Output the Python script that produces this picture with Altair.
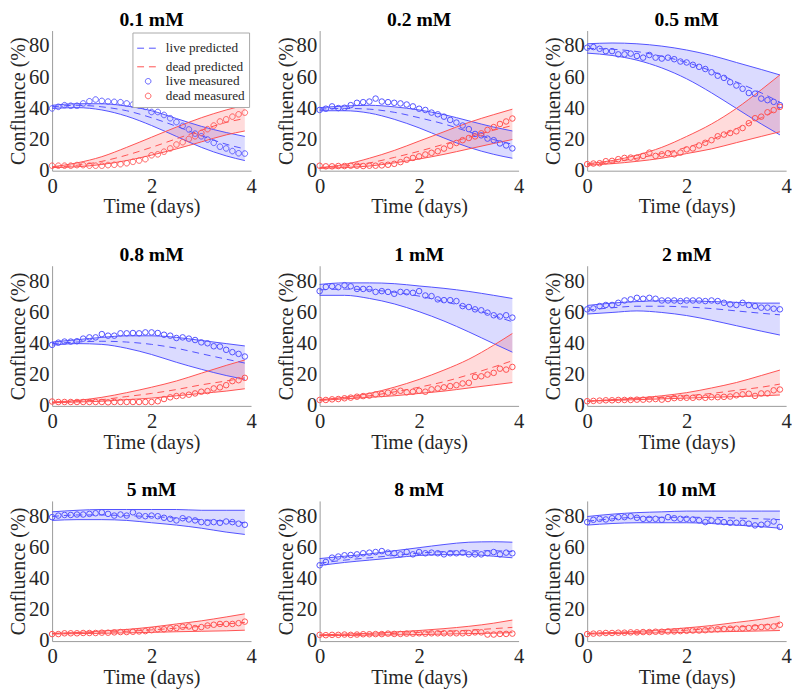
import altair as alt
import pandas as pd

# ---------------- data ----------------
TIMES_MEAS = [0.0, 0.125, 0.25, 0.375, 0.5, 0.625, 0.75, 0.875, 1.0, 1.125, 1.25, 1.375,
              1.5, 1.625, 1.75, 1.875, 2.0, 2.125, 2.25, 2.375, 2.5, 2.625, 2.75, 2.875,
              3.0, 3.125, 3.25, 3.375, 3.5, 3.625, 3.75, 3.875]
TIMES_PRED = [0.0, 0.5, 1.0, 1.5, 2.0, 2.5, 3.0, 3.5, 3.875]
TITLES = ["0.1 mM", "0.2 mM", "0.5 mM", "0.8 mM", "1 mM", "2 mM", "5 mM", "8 mM", "10 mM"]
X_TICKS = [0, 2, 4]
Y_TICKS = [0, 20, 40, 60, 80]
LEGEND_LABELS = ["live predicted", "dead predicted", "live measured", "dead measured"]

# 0.1 mM
live_meas_01 = [40.0, 41.0, 42.1, 41.7, 41.7, 43.2, 44.6, 45.7, 44.8, 44.4, 44.2, 44.0, 43.2, 42.5, 41.9, 41.0,
                37.7, 37.7, 35.8, 33.7, 31.2, 28.8, 26.5, 23.8, 22.1, 20.0, 17.9, 15.4, 14.3, 12.6, 11.2, 11.0]
dead_meas_01 = [3.2, 3.2, 3.2, 3.2, 3.6, 3.6, 3.2, 3.2, 3.2, 3.6, 3.8, 4.2, 4.8, 5.7, 6.5, 7.4,
                9.9, 10.5, 12.2, 14.3, 16.8, 18.3, 20.4, 22.1, 24.2, 26.7, 29.0, 31.6, 33.0, 34.7, 36.2, 37.3]
live_lo_01 = [40.0, 40.5, 39.0, 35.0, 29.0, 22.0, 15.0, 9.5, 6.5]
live_mid_01 = [41.0, 42.0, 41.0, 38.5, 34.0, 28.5, 22.5, 17.0, 14.0]
live_hi_01 = [42.0, 43.0, 43.0, 41.5, 38.5, 33.5, 28.5, 24.5, 22.0]
dead_lo_01 = [2.0, 2.5, 4.0, 6.5, 10.0, 14.0, 18.5, 23.0, 25.5]
dead_mid_01 = [2.2, 3.5, 6.0, 10.0, 15.0, 20.5, 26.0, 31.0, 33.5]
dead_hi_01 = [2.5, 5.0, 9.0, 15.0, 21.5, 28.0, 34.0, 39.0, 42.0]

# 0.2 mM
live_meas_02 = [39.0, 39.8, 41.3, 40.2, 40.4, 42.1, 43.6, 44.0, 44.4, 46.3, 44.4, 44.0, 43.6, 43.2, 42.5, 41.3,
                39.8, 39.0, 37.3, 36.2, 34.7, 32.6, 30.9, 29.0, 26.7, 23.6, 22.7, 20.6, 19.6, 17.5, 16.2, 14.3]
dead_meas_02 = [3.2, 2.8, 2.8, 3.0, 3.0, 3.2, 3.2, 3.0, 3.2, 3.2, 3.4, 3.8, 4.4, 5.5, 7.0, 8.2,
                9.2, 10.4, 11.5, 12.5, 14.2, 16.0, 17.8, 19.6, 21.0, 22.0, 24.0, 26.2, 28.0, 30.0, 31.6, 33.5]
live_lo_02 = [38.5, 38.5, 37.0, 33.0, 27.5, 21.0, 15.0, 10.5, 8.0]
live_mid_02 = [39.5, 40.0, 39.5, 37.5, 34.0, 30.0, 25.0, 20.0, 17.0]
live_hi_02 = [40.5, 41.5, 42.0, 41.0, 39.0, 36.0, 32.0, 28.0, 25.5]
dead_lo_02 = [1.5, 2.0, 3.0, 5.0, 7.5, 10.5, 14.0, 17.5, 20.0]
dead_mid_02 = [1.8, 3.0, 5.0, 8.5, 12.5, 17.0, 21.5, 26.0, 29.0]
dead_hi_02 = [2.0, 4.0, 8.0, 13.0, 19.0, 25.0, 31.0, 36.0, 39.5]

# 0.5 mM
live_meas_05 = [79.0, 79.4, 78.3, 76.8, 76.8, 74.7, 74.7, 75.2, 73.7, 72.6, 74.3, 72.6, 72.0, 72.6, 71.6, 70.1,
                69.5, 68.0, 66.7, 65.3, 63.2, 61.0, 59.6, 56.8, 54.7, 52.6, 49.9, 49.5, 46.3, 45.3, 44.2, 42.1]
dead_meas_05 = [4.2, 4.6, 4.8, 6.1, 6.3, 7.4, 8.2, 8.4, 8.4, 9.5, 11.6, 9.5, 10.5, 11.2, 10.5, 11.6,
                13.7, 14.3, 16.2, 17.9, 19.6, 22.1, 23.2, 24.2, 25.3, 27.4, 30.5, 33.7, 34.7, 37.5, 38.9, 41.0]
live_lo_05 = [75.5, 74.0, 71.0, 66.0, 59.0, 50.0, 40.0, 30.0, 23.0]
live_mid_05 = [78.5, 78.0, 76.5, 73.5, 69.5, 64.0, 57.0, 50.0, 44.0]
live_hi_05 = [81.5, 82.0, 81.5, 80.0, 77.5, 74.0, 69.5, 65.0, 61.5]
dead_lo_05 = [3.5, 4.5, 6.0, 8.0, 11.0, 14.0, 18.0, 22.0, 25.0]
dead_mid_05 = [4.0, 5.5, 8.0, 11.0, 15.0, 20.0, 27.0, 34.0, 40.0]
dead_hi_05 = [4.5, 6.5, 10.0, 15.0, 22.0, 30.0, 40.0, 52.0, 61.5]

# 0.8 mM
live_meas_08 = [39.2, 40.6, 41.3, 41.3, 41.5, 43.2, 44.0, 44.0, 46.1, 45.1, 45.1, 46.6, 46.6, 46.8, 46.6, 47.2,
                47.2, 46.8, 45.7, 45.1, 43.6, 44.0, 43.2, 42.3, 40.8, 40.2, 38.3, 38.1, 36.0, 34.5, 33.4, 31.7]
dead_meas_08 = [2.8, 2.5, 2.5, 2.5, 2.5, 2.5, 2.5, 2.5, 2.5, 2.3, 2.5, 2.5, 2.5, 2.5, 2.5, 2.5,
                2.5, 3.0, 4.4, 5.5, 6.3, 6.6, 7.2, 8.0, 9.1, 9.5, 11.2, 11.9, 13.3, 15.9, 16.5, 18.0]
live_lo_08 = [39.0, 40.0, 39.5, 37.0, 33.0, 28.0, 23.5, 19.5, 17.0]
live_mid_08 = [40.0, 41.0, 41.5, 41.0, 39.5, 37.0, 33.5, 30.0, 27.5]
live_hi_08 = [41.0, 42.5, 44.0, 45.0, 45.0, 44.0, 42.0, 40.0, 38.5]
dead_lo_08 = [2.0, 2.5, 3.0, 4.0, 5.0, 6.5, 8.0, 9.5, 11.0]
dead_mid_08 = [2.2, 3.0, 4.0, 6.0, 8.0, 10.5, 13.5, 16.0, 18.0]
dead_hi_08 = [2.5, 3.5, 5.5, 8.5, 12.0, 16.0, 21.0, 26.0, 29.5]

# 1 mM
live_meas_1 = [73.7, 76.4, 76.8, 76.2, 77.5, 76.8, 75.1, 75.1, 75.1, 73.2, 73.7, 73.2, 72.0, 73.2, 73.0, 72.6,
               73.7, 70.9, 70.5, 68.4, 67.9, 67.9, 67.3, 64.1, 63.5, 62.0, 61.4, 59.9, 58.2, 57.4, 58.2, 56.7]
dead_meas_1 = [3.8, 3.8, 4.2, 4.4, 4.9, 5.3, 5.9, 6.3, 6.6, 7.4, 7.6, 8.5, 9.1, 9.7, 8.7, 9.1,
               9.7, 9.1, 10.6, 11.2, 11.9, 12.7, 13.3, 14.4, 14.8, 18.6, 19.0, 20.1, 21.2, 23.9, 23.3, 25.0]
live_lo_1 = [71.0, 71.0, 69.0, 65.5, 60.5, 54.5, 47.5, 40.0, 34.5]
live_mid_1 = [74.5, 75.0, 74.5, 73.0, 70.5, 67.0, 63.0, 58.0, 54.0]
live_hi_1 = [78.0, 79.0, 79.0, 78.5, 77.0, 75.5, 73.5, 71.0, 69.0]
dead_lo_1 = [3.5, 4.5, 5.5, 6.5, 8.0, 9.5, 11.5, 13.5, 15.0]
dead_mid_1 = [3.8, 5.0, 6.5, 9.0, 12.0, 15.5, 20.0, 25.0, 29.0]
dead_hi_1 = [4.0, 5.5, 8.0, 12.0, 17.0, 23.0, 30.0, 39.0, 46.5]

# 2 mM
live_meas_2 = [62.0, 62.6, 64.1, 64.8, 64.8, 66.2, 67.7, 68.4, 69.4, 68.8, 69.4, 68.8, 67.7, 67.7, 67.7, 67.3,
               67.7, 67.7, 67.7, 67.3, 67.7, 67.3, 66.2, 65.2, 64.8, 66.2, 64.8, 64.1, 63.1, 63.1, 62.4, 62.0]
dead_meas_2 = [3.0, 3.2, 3.4, 3.6, 3.6, 3.8, 3.8, 3.8, 4.0, 4.0, 4.2, 4.4, 4.0, 4.4, 5.0, 5.2,
               5.2, 5.2, 5.6, 5.2, 5.6, 5.6, 5.8, 6.0, 6.8, 7.4, 7.8, 6.4, 8.0, 8.0, 10.0, 10.5]
live_lo_2 = [59.0, 60.0, 61.0, 60.0, 58.0, 55.0, 51.5, 48.0, 45.5]
live_mid_2 = [61.5, 63.0, 64.0, 64.0, 63.5, 62.5, 61.0, 59.5, 58.5]
live_hi_2 = [64.5, 66.0, 67.0, 67.5, 67.5, 67.0, 66.5, 66.0, 66.0]
dead_lo_2 = [3.0, 3.5, 4.0, 4.5, 5.0, 5.5, 6.0, 6.5, 7.0]
dead_mid_2 = [3.0, 3.8, 4.5, 5.5, 6.5, 8.0, 10.0, 12.0, 14.0]
dead_hi_2 = [3.0, 4.0, 5.0, 6.5, 8.5, 11.5, 15.0, 19.5, 23.0]

# 5 mM
live_meas_5 = [79.6, 80.6, 81.0, 81.0, 81.3, 81.3, 81.7, 82.1, 82.7, 81.7, 80.6, 81.3, 80.6, 82.7, 80.6, 80.2,
               80.6, 80.2, 79.2, 78.5, 77.5, 78.9, 78.1, 77.5, 76.4, 76.0, 76.4, 76.0, 76.8, 76.4, 75.4, 74.7]
dead_meas_5 = [4.5, 4.5, 5.0, 5.0, 5.0, 5.2, 5.2, 5.2, 5.4, 5.4, 5.6, 5.8, 5.8, 6.0, 6.2, 6.4,
               7.0, 7.6, 7.6, 8.2, 8.4, 9.2, 9.4, 8.4, 9.0, 10.0, 10.5, 11.0, 11.0, 11.0, 11.5, 12.5]
live_lo_5 = [77.5, 78.0, 78.0, 77.5, 76.0, 74.5, 72.5, 70.0, 68.5]
live_mid_5 = [80.0, 81.0, 81.0, 80.5, 80.0, 79.0, 78.0, 77.0, 76.0]
live_hi_5 = [83.0, 84.0, 84.5, 84.5, 84.5, 84.5, 84.0, 84.0, 84.0]
dead_lo_5 = [4.5, 4.8, 5.0, 5.3, 5.6, 6.0, 6.3, 6.6, 7.0]
dead_mid_5 = [4.8, 5.2, 5.7, 6.3, 7.2, 8.3, 9.5, 11.0, 12.0]
dead_hi_5 = [5.0, 5.5, 6.5, 7.5, 9.0, 11.0, 13.0, 15.5, 17.5]

# 8 mM
live_meas_8 = [48.7, 50.8, 53.6, 54.3, 55.1, 55.3, 55.7, 56.4, 56.8, 57.2, 57.8, 56.8, 56.4, 55.7, 57.2, 55.7,
               57.2, 56.4, 56.8, 56.4, 55.7, 56.4, 56.4, 56.8, 55.7, 55.7, 55.7, 56.4, 57.2, 55.7, 56.8, 56.4]
dead_meas_8 = [4.0, 3.8, 4.0, 4.0, 4.2, 4.0, 4.2, 4.4, 4.4, 4.5, 4.5, 4.8, 4.6, 4.6, 4.8, 4.8,
               5.0, 4.8, 5.0, 5.0, 5.0, 5.0, 5.0, 5.0, 5.2, 5.6, 5.6, 4.2, 4.2, 4.6, 4.6, 4.8]
live_lo_8 = [48.5, 50.5, 52.0, 53.5, 55.0, 55.5, 55.5, 54.5, 53.5]
live_mid_8 = [50.0, 52.0, 53.5, 55.0, 56.5, 57.5, 58.0, 58.0, 57.5]
live_hi_8 = [53.0, 54.5, 56.0, 58.0, 60.0, 62.0, 63.5, 63.8, 63.5]
dead_lo_8 = [3.5, 3.6, 3.8, 4.0, 4.2, 4.5, 4.8, 5.1, 5.4]
dead_mid_8 = [3.8, 4.0, 4.4, 4.9, 5.5, 6.2, 7.0, 8.0, 8.8]
dead_hi_8 = [4.0, 4.5, 5.0, 5.8, 6.8, 8.0, 9.5, 11.5, 13.5]

# 10 mM
live_meas_10 = [76.4, 77.9, 78.5, 78.1, 78.9, 79.6, 79.6, 80.2, 79.2, 78.5, 78.5, 78.5, 77.9, 79.6, 78.9, 78.5,
                78.5, 78.1, 77.5, 76.4, 77.5, 76.8, 76.4, 76.0, 76.0, 76.0, 75.4, 74.3, 74.7, 75.4, 76.8, 73.3]
dead_meas_10 = [4.5, 4.8, 5.0, 5.2, 5.2, 5.4, 5.4, 5.6, 5.6, 5.8, 5.8, 6.0, 6.0, 6.2, 6.2, 6.4,
                6.6, 6.8, 6.8, 7.0, 7.4, 7.6, 7.8, 8.0, 8.0, 8.2, 8.4, 8.8, 9.0, 9.2, 9.4, 10.5]
live_lo_10 = [74.5, 75.5, 76.0, 76.0, 76.0, 75.5, 74.5, 73.5, 72.5]
live_mid_10 = [77.0, 78.5, 79.5, 79.5, 79.5, 79.5, 79.0, 78.5, 78.0]
live_hi_10 = [80.0, 81.5, 82.5, 83.0, 83.5, 83.5, 83.5, 83.5, 83.5]
dead_lo_10 = [4.5, 4.8, 5.0, 5.3, 5.6, 5.9, 6.2, 6.5, 6.8]
dead_mid_10 = [4.8, 5.2, 5.6, 6.2, 7.0, 8.0, 9.0, 10.2, 11.3]
dead_hi_10 = [5.0, 5.5, 6.2, 7.2, 8.5, 10.0, 12.0, 14.0, 16.0]

PANELS = [
    (TITLES[0], live_meas_01, dead_meas_01, live_lo_01, live_mid_01, live_hi_01, dead_lo_01, dead_mid_01, dead_hi_01),
    (TITLES[1], live_meas_02, dead_meas_02, live_lo_02, live_mid_02, live_hi_02, dead_lo_02, dead_mid_02, dead_hi_02),
    (TITLES[2], live_meas_05, dead_meas_05, live_lo_05, live_mid_05, live_hi_05, dead_lo_05, dead_mid_05, dead_hi_05),
    (TITLES[3], live_meas_08, dead_meas_08, live_lo_08, live_mid_08, live_hi_08, dead_lo_08, dead_mid_08, dead_hi_08),
    (TITLES[4], live_meas_1, dead_meas_1, live_lo_1, live_mid_1, live_hi_1, dead_lo_1, dead_mid_1, dead_hi_1),
    (TITLES[5], live_meas_2, dead_meas_2, live_lo_2, live_mid_2, live_hi_2, dead_lo_2, dead_mid_2, dead_hi_2),
    (TITLES[6], live_meas_5, dead_meas_5, live_lo_5, live_mid_5, live_hi_5, dead_lo_5, dead_mid_5, dead_hi_5),
    (TITLES[7], live_meas_8, dead_meas_8, live_lo_8, live_mid_8, live_hi_8, dead_lo_8, dead_mid_8, dead_hi_8),
    (TITLES[8], live_meas_10, dead_meas_10, live_lo_10, live_mid_10, live_hi_10, dead_lo_10, dead_mid_10, dead_hi_10),
]

# ---------------- styling ----------------
FONT = "Liberation Serif"
BLUE = "#5050ff"
RED = "#ff5050"
BLUE_FILL = "#0000ff"
RED_FILL = "#ff0000"
FILL_OPACITY = 0.14
DASH = [7, 5]
PANEL_W = 203
PANEL_H = 143


def x_enc():
    return alt.X("t:Q", scale=alt.Scale(domain=[0, 4], nice=False, zero=False),
                 axis=alt.Axis(title="Time (days)", values=X_TICKS, format="d", labelFlush=False))


def y_enc(field):
    return alt.Y(f"{field}:Q", scale=alt.Scale(domain=[0, 90], nice=False),
                 axis=alt.Axis(title="Confluence (%)", values=Y_TICKS, format="d"))


def make_panel(title, lm, dm, llo, lmid, lhi, dlo, dmid, dhi, show_legend=False):
    pred = pd.DataFrame({"t": TIMES_PRED, "llo": llo, "lmid": lmid, "lhi": lhi,
                         "dlo": dlo, "dmid": dmid, "dhi": dhi})
    meas = pd.DataFrame({"t": TIMES_MEAS + TIMES_MEAS, "value": lm + dm,
                         "series": ["live measured"] * len(lm) + ["dead measured"] * len(dm)})
    base = alt.Chart(pred)
    layers = [
        base.mark_area(color=BLUE_FILL, opacity=FILL_OPACITY, interpolate="monotone").encode(
            x=x_enc(), y=y_enc("llo"), y2=alt.Y2("lhi")),
        base.mark_area(color=RED_FILL, opacity=FILL_OPACITY, interpolate="monotone").encode(
            x=x_enc(), y=y_enc("dlo"), y2=alt.Y2("dhi")),
    ]
    for f, c in [("lhi", BLUE), ("llo", BLUE), ("dhi", RED), ("dlo", RED)]:
        layers.append(base.mark_line(color=c, strokeWidth=1, interpolate="monotone").encode(
            x=x_enc(), y=y_enc(f)))
    for f, c in [("lmid", BLUE), ("dmid", RED)]:
        layers.append(base.mark_line(color=c, strokeWidth=1, strokeDash=DASH, interpolate="monotone").encode(
            x=x_enc(), y=y_enc(f)))

    pts = alt.Chart(meas).mark_point(shape="circle", filled=False, strokeWidth=1, opacity=1)
    if show_legend:
        leg = alt.Legend(title=None, orient="top-right", offset=2, fillColor="white",
                         strokeColor="#a8a8a8", padding=4, labelFont=FONT, labelFontSize=13.5,
                         labelColor="#262626", rowPadding=0, symbolStrokeWidth=1,
                         symbolFillColor="transparent", labelOffset=6)
        pts = pts.encode(
            x=x_enc(), y=y_enc("value"),
            color=alt.Color("series:N", scale=alt.Scale(domain=LEGEND_LABELS, range=[BLUE, RED, BLUE, RED]),
                            legend=leg),
            shape=alt.Shape("series:N", scale=alt.Scale(domain=LEGEND_LABELS,
                                                        range=["stroke", "stroke", "circle", "circle"]),
                            legend=leg),
            size=alt.Size("series:N", scale=alt.Scale(type="ordinal", domain=LEGEND_LABELS,
                                                      range=[500, 500, 32, 32]), legend=leg),
            strokeDash=alt.StrokeDash("series:N", scale=alt.Scale(domain=LEGEND_LABELS,
                                                                  range=[DASH, DASH, [1, 0], [1, 0]]),
                                      legend=leg),
        )
    else:
        pts = pts.encode(
            x=x_enc(), y=y_enc("value"),
            color=alt.Color("series:N", scale=alt.Scale(domain=["live measured", "dead measured"],
                                                        range=[BLUE, RED]), legend=None),
            size=alt.value(32),
        )
    layers.append(pts)
    return alt.layer(*layers).properties(
        width=PANEL_W, height=PANEL_H,
        title=alt.TitleParams(title, font=FONT, fontSize=20, fontWeight="bold", color="#000000",
                              anchor="middle", offset=1),
    )


charts = [make_panel(*p, show_legend=(i == 0)) for i, p in enumerate(PANELS)]

chart = alt.concat(*charts, columns=3, spacing={"row": 28, "column": 19}).resolve_scale(
    color="independent", shape="independent", size="independent", strokeDash="independent"
).resolve_legend(
    color="independent", shape="independent", size="independent", strokeDash="independent"
).properties(
    padding={"left": 0, "top": -5, "right": 0, "bottom": 0}
).configure_view(stroke=None).configure_axis(
    labelFont=FONT, titleFont=FONT, labelFontSize=21, titleFontSize=20.5, titleFontWeight="normal",
    labelColor="#262626", titleColor="#262626", domainColor="#9a9a9a", domainWidth=1,
    ticks=False, grid=False,
).configure_axisX(labelPadding=5, titlePadding=1).configure_axisY(labelPadding=3, titlePadding=0)

chart.save("out.html", embed_options={"renderer": "svg", "actions": False})
